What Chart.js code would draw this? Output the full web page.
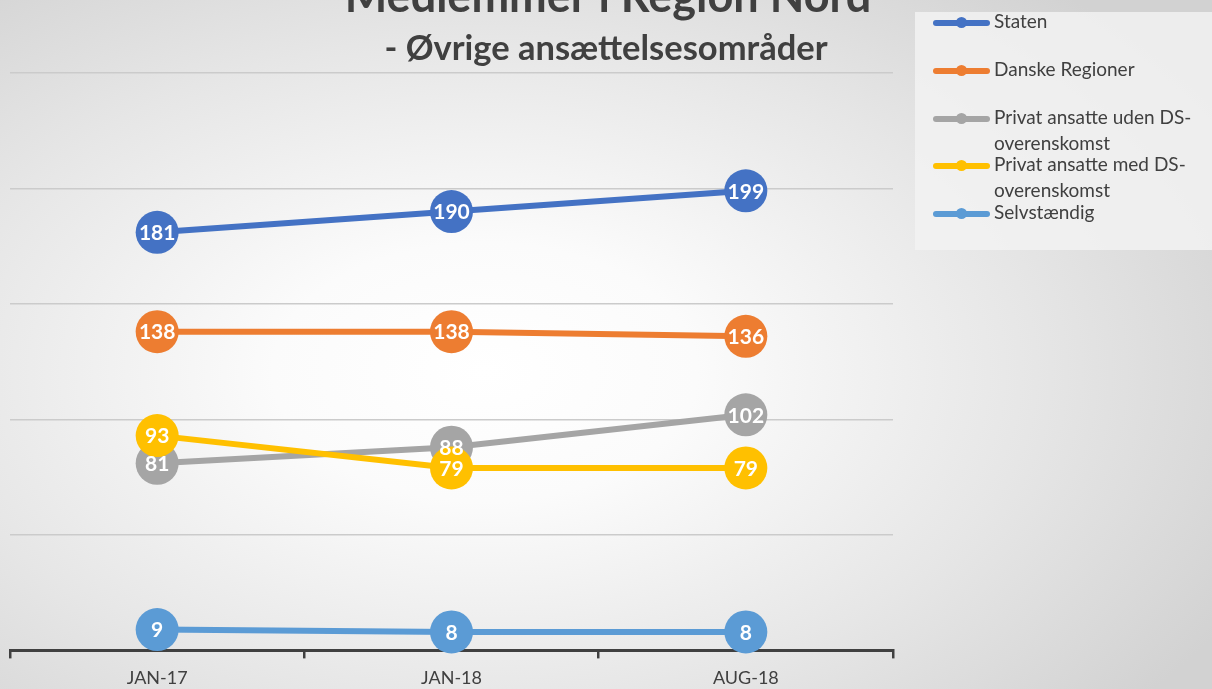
<!DOCTYPE html>
<html>
<head>
<meta charset="utf-8">
<script src="https://cdn.jsdelivr.net/npm/chart.js@4.4.1/dist/chart.umd.min.js"></script>
<style>
  html, body { margin: 0; padding: 0; }
  body {
    width: 1212px; height: 689px; overflow: hidden; position: relative;
    background: radial-gradient(ellipse 70% 75% at 40% 54%, #ffffff 0%, #fbfbfb 25%, #e6e6e6 65%, #d2d2d2 100%);
    font-family: Lato, 'Open Sans', sans-serif;
  }
  #wrap { position: absolute; left: 0; top: 0; width: 1212px; height: 689px; }
  #legend {
    position: absolute; left: 915px; top: 12px; width: 297px; height: 238px;
    background: rgba(242, 242, 242, 0.85);
  }
  .item { position: relative; height: 47.75px; }
  .sample { position: absolute; left: 18px; top: 8px; width: 57px; height: 6px; border-radius: 3px; }
  .sample i { position: absolute; left: 23px; top: -3px; width: 11px; height: 11px; border-radius: 50%; background: inherit; }
  .text { position: absolute; left: 79px; top: -4px; width: 212px; font-size: 19px; line-height: 26px; color: #404040; }
</style>
</head>
<body>
<div id="wrap"><canvas id="c"></canvas></div>
<div id="legend"></div>
<script>
  'use strict';

  const categories = ['JAN-17', 'JAN-18', 'AUG-18'];
  const seriesNames = ['Staten', 'Danske Regioner', 'Privat ansatte uden DS-overenskomst', 'Privat ansatte med DS-overenskomst', 'Selvstændig'];
  const staten = [181, 190, 199];
  const danskeRegioner = [138, 138, 136];
  const privatUden = [81, 88, 102];
  const privatMed = [93, 79, 79];
  const selvstaendig = [9, 8, 8];
  const seriesColors = ['#4472C4', '#ED7D31', '#A5A5A5', '#FFC000', '#5B9BD5'];
  const yTicks = [0, 50, 100, 150, 200, 250];

  const TITLE = 'Medlemmer i Region Nord';
  const SUBTITLE = '- Øvrige ansættelsesområder';
  const FONT = "Lato, 'Open Sans', sans-serif";
  const TEXT_COLOR = '#404040';

  const seriesValues = [staten, danskeRegioner, privatUden, privatMed, selvstaendig];

  const datasets = seriesValues.map((vals, i) => ({
    label: seriesNames[i],
    data: vals,
    borderColor: seriesColors[i],
    backgroundColor: seriesColors[i],
    pointBackgroundColor: seriesColors[i],
    pointBorderWidth: 0,
    pointRadius: 21.5,
    borderWidth: 6,
    tension: 0,
    clip: false,
    order: seriesValues.length - i
  }));

  // titles drawn at the top, partially cut off like the original
  const titlePlugin = {
    id: 'titles',
    afterDraw(chart) {
      const ctx = chart.ctx;
      const cx = chart.width / 2;
      ctx.save();
      ctx.fillStyle = TEXT_COLOR;
      ctx.textAlign = 'center';
      ctx.textBaseline = 'alphabetic';
      ctx.font = `bold 45px ${FONT}`;
      ctx.fillText(TITLE, cx + 2, 12);
      ctx.font = `bold 34.5px ${FONT}`;
      ctx.fillText(SUBTITLE, cx, 60);
      ctx.restore();
    }
  };

  // white value labels in the middle of each marker
  const valueLabels = {
    id: 'valueLabels',
    afterDatasetsDraw(chart) {
      const ctx = chart.ctx;
      ctx.save();
      ctx.fillStyle = '#ffffff';
      ctx.font = `bold 21px ${FONT}`;
      ctx.textAlign = 'center';
      ctx.textBaseline = 'middle';
      chart.data.datasets.forEach((ds, i) => {
        chart.getDatasetMeta(i).data.forEach((pt, j) => {
          ctx.fillText(String(ds.data[j]), pt.x, pt.y + 1);
        });
      });
      ctx.restore();
    }
  };

  new Chart(document.getElementById('c'), {
    type: 'line',
    data: { labels: categories, datasets },
    options: {
      responsive: true,
      maintainAspectRatio: false,
      animation: false,
      events: [],
      layout: { autoPadding: false, padding: { top: 73, left: 10, right: 319, bottom: -9 } },
      plugins: { legend: { display: false }, tooltip: { enabled: false } },
      scales: {
        x: {
          offset: true,
          grid: { offset: true, drawOnChartArea: false, drawTicks: true, tickLength: 8, color: TEXT_COLOR, lineWidth: 2.5 },
          border: { display: true, color: TEXT_COLOR, width: 3 },
          ticks: { color: TEXT_COLOR, font: { family: FONT, size: 18 }, padding: 9 }
        },
        y: {
          min: 0,
          max: 250,
          afterBuildTicks: (axis) => { axis.ticks = yTicks.map(v => ({ value: v })); },
          afterFit: (axis) => { axis.width = 0; },
          ticks: { display: false },
          grid: { color: '#cbcbcb', lineWidth: 1.5, drawTicks: false },
          border: { display: false }
        }
      }
    },
    plugins: [titlePlugin, valueLabels]
  });

  // legend built as html so long names can wrap like the original
  const legend = document.getElementById('legend');
  seriesNames.forEach((name, i) => {
    const item = document.createElement('div');
    item.className = 'item';
    item.innerHTML = `<div class="sample" style="background:${seriesColors[i]}"><i></i></div><div class="text">${name}</div>`;
    legend.appendChild(item);
  });
</script>
</body>
</html>
